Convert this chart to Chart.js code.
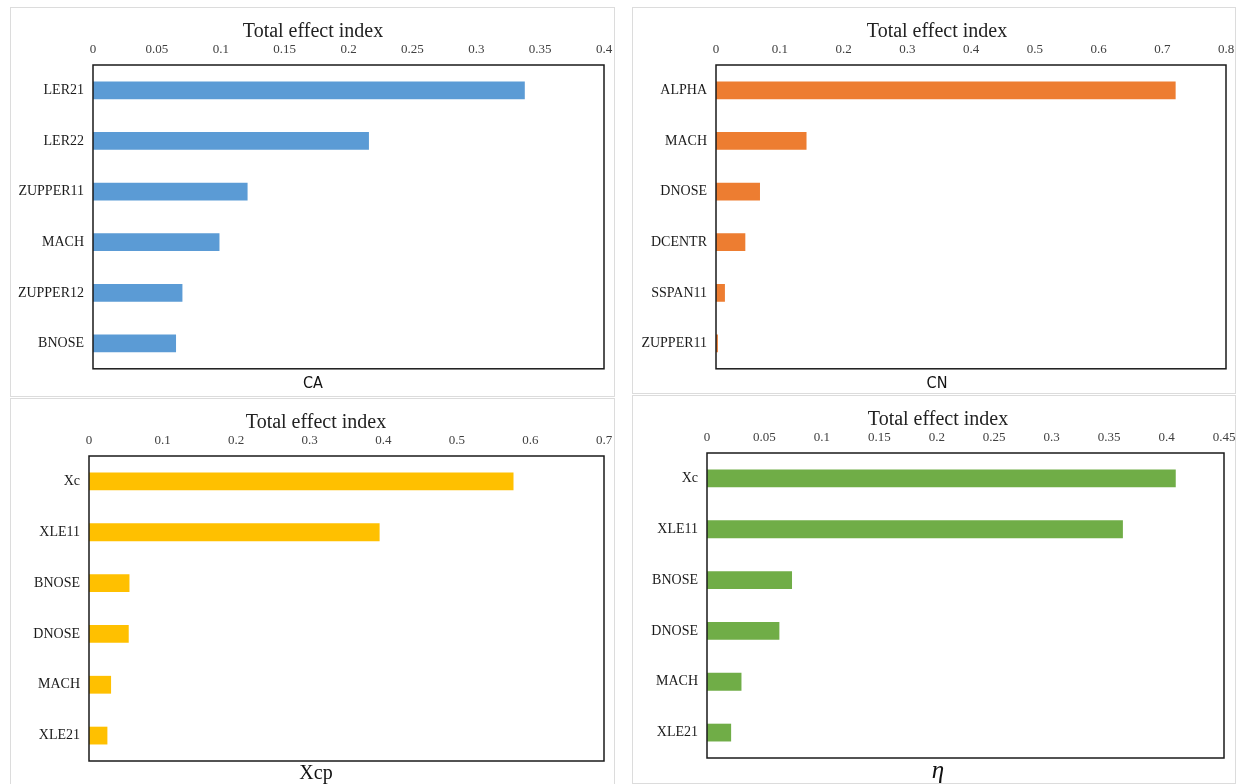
<!DOCTYPE html>
<html>
<head>
<meta charset="utf-8">
<script src="https://cdn.jsdelivr.net/npm/chart.js@4"></script>
<style>
  html, body { margin: 0; padding: 0; background: #fff; overflow: hidden; }
  body { width: 1239px; height: 784px; position: relative; }
  .panel { position: absolute; border: 1px solid #dcdcdc; box-sizing: border-box; }
  canvas { position: absolute; }
</style>
</head>
<body>
<div class="panel" style="left:10px;top:7px;width:605px;height:390px"></div>
<div class="panel" style="left:632px;top:7px;width:604px;height:387px"></div>
<div class="panel" style="left:10px;top:398px;width:605px;height:392px"></div>
<div class="panel" style="left:632px;top:395px;width:604px;height:389px"></div>

<canvas id="caChart" width="606" height="390" style="left:10px;top:7px"></canvas>
<canvas id="cnChart" width="610" height="390" style="left:632px;top:7px"></canvas>
<canvas id="xcpChart" width="612" height="387" style="left:10px;top:397px"></canvas>
<canvas id="etaChart" width="612" height="389" style="left:632px;top:395px"></canvas>

<script>
// Total effect indices per output

const caLabels = ["LER21", "LER22", "ZUPPER11", "MACH", "ZUPPER12", "BNOSE"];
const caValues = [0.338, 0.216, 0.121, 0.099, 0.070, 0.065];

const cnLabels = ["ALPHA", "MACH", "DNOSE", "DCENTR", "SSPAN11", "ZUPPER11"];
const cnValues = [0.721, 0.142, 0.069, 0.046, 0.014, 0.003];

const xcpLabels = ["Xc", "XLE11", "BNOSE", "DNOSE", "MACH", "XLE21"];
const xcpValues = [0.577, 0.395, 0.055, 0.054, 0.030, 0.025];

const etaLabels = ["Xc", "XLE11", "BNOSE", "DNOSE", "MACH", "XLE21"];
const etaValues = [0.408, 0.362, 0.074, 0.063, 0.030, 0.021];

// axis ranges: [max, step]
const caAxis = [0.4, 0.05];
const cnAxis = [0.8, 0.1];
const xcpAxis = [0.7, 0.1];
const etaAxis = [0.45, 0.05];

const SERIF = "'Liberation Serif', 'Times New Roman', serif";
const NARROW = "'Liberation Sans Narrow', 'DejaVu Sans Condensed', 'Liberation Sans', sans-serif";

// black box round the plot area
const frame = {
    id: "frame",
    afterDatasetsDraw(chart) {
        const { ctx, chartArea: a } = chart;
        ctx.save();
        ctx.strokeStyle = "#1a1a1a";
        ctx.lineWidth = 1.5;
        ctx.strokeRect(a.left, a.top, a.right - a.left, a.bottom - a.top);
        ctx.restore();
    }
};

function drawPanel(id, labels, values, color, axis, name, look) {

    new Chart(document.getElementById(id), {
        type: "bar",
        data: {
            labels: labels,
            datasets: [{
                data: values,
                backgroundColor: color,
                borderWidth: 0,
                barPercentage: 0.35,
                categoryPercentage: 1
            }]
        },
        options: {
            indexAxis: "y",
            responsive: false,
            animation: false,
            layout: { padding: 0 },
            plugins: {
                legend: { display: false },
                tooltip: { enabled: false },
                title: {
                    display: true,
                    text: "Total effect index",
                    color: "#222",
                    font: { family: SERIF, size: 20, weight: "normal" },
                    padding: { top: look.titleTop, bottom: 0 }
                },
                subtitle: {
                    display: true,
                    position: "bottom",
                    text: name,
                    color: "#111",
                    font: look.nameFont,
                    padding: look.namePad
                }
            },
            scales: {
                x: {
                    position: "top",
                    min: 0,
                    max: axis[0],
                    grid: { display: false, drawTicks: false },
                    border: { display: false },
                    ticks: {
                        stepSize: axis[1],
                        padding: look.tickPad,
                        color: "#404040",
                        font: { family: SERIF, size: 13 },
                        callback: v => String(+v.toFixed(2))
                    },
                    afterFit: s => {
                        s.height = look.xHeight;
                        s.paddingLeft = 0;
                        s.paddingRight = 0;
                    }
                },
                y: {
                    grid: { display: false, drawTicks: false },
                    border: { display: false },
                    ticks: {
                        padding: 9,
                        color: "#1a1a1a",
                        font: { family: SERIF, size: 14 }
                    },
                    afterFit: s => { s.width = look.yWidth; }
                },
                // empty strip on the right so the titles stay centred on the canvas
                yRight: {
                    type: "category",
                    position: "right",
                    grid: { display: false, drawTicks: false },
                    border: { display: false },
                    ticks: { display: false },
                    afterFit: s => { s.width = look.rightWidth; }
                }
            }
        },
        plugins: [frame]
    });
}

const sansName = { family: NARROW, size: 16 };

drawPanel("caChart", caLabels, caValues, "#5B9BD5", caAxis, "CA", {
    yWidth: 83, rightWidth: 12, titleTop: 13, xHeight: 21, tickPad: 8,
    nameFont: sansName, namePad: { top: 5, bottom: 4 }
});

drawPanel("cnChart", cnLabels, cnValues, "#ED7D31", cnAxis, "CN", {
    yWidth: 84, rightWidth: 16, titleTop: 13, xHeight: 21, tickPad: 8,
    nameFont: sansName, namePad: { top: 5, bottom: 4 }
});

drawPanel("xcpChart", xcpLabels, xcpValues, "#FFC000", xcpAxis, "Xcp", {
    yWidth: 79, rightWidth: 18, titleTop: 14, xHeight: 21, tickPad: 8,
    nameFont: { family: SERIF, size: 20, lineHeight: 1 }, namePad: { top: 3, bottom: 0 }
});

drawPanel("etaChart", etaLabels, etaValues, "#70AD47", etaAxis, "η", {
    yWidth: 75, rightWidth: 20, titleTop: 13, xHeight: 21, tickPad: 8,
    nameFont: { family: SERIF, size: 25, style: "italic", lineHeight: 0.6 }, namePad: { top: 6, bottom: 5 }
});
</script>
</body>
</html>
